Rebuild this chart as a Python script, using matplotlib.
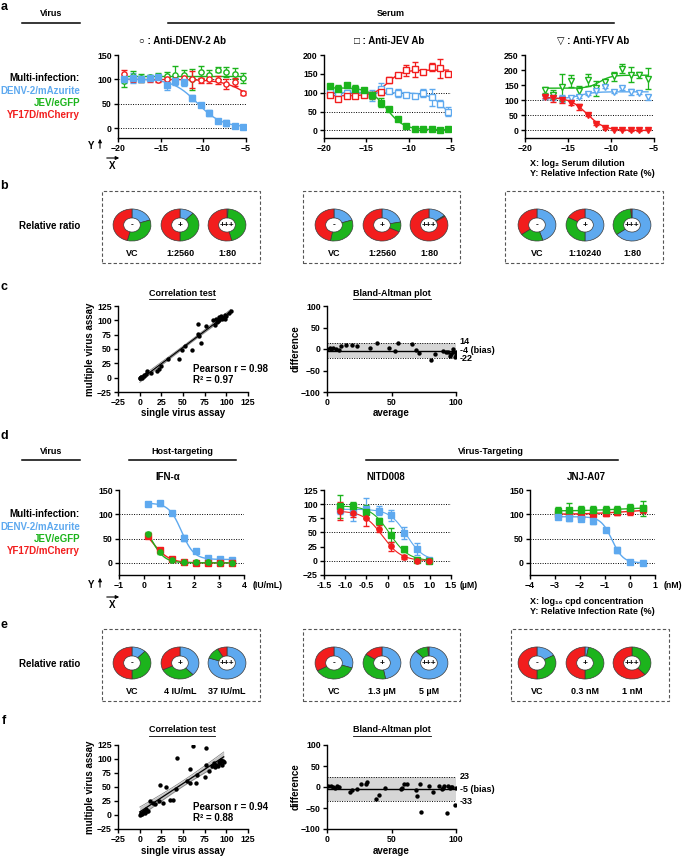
import numpy as np
import matplotlib
matplotlib.use('Agg')
import matplotlib.pyplot as plt
from matplotlib.lines import Line2D
from matplotlib.patches import Rectangle, FancyArrowPatch

plt.rcParams['font.family'] = ['Liberation Sans Narrow', 'Liberation Sans', 'DejaVu Sans']
plt.rcParams['font.weight'] = 'bold'
plt.rcParams['axes.linewidth'] = 1.0

BLUE = '#5ea9ef'
GREEN = '#1cb41c'
RED = '#f21d1d'

# ---------------- data ----------------
virus_names = ['DENV-2/mAzurite', 'JEV/eGFP', 'YF17D/mCherry']

# panel a : log2 serum dilution
a12_x = [-19.3, -18.3, -17.3, -16.3, -15.3, -14.3, -13.3, -12.3, -11.3, -10.3, -9.3, -8.3, -7.3, -6.3, -5.3]
a3_x = [-17.7, -16.7, -15.7, -14.7, -13.7, -12.7, -11.7, -10.7, -9.7, -8.7, -7.7, -6.7, -5.7]

a1_denv = [100, 103, 100, 103, 105, 89, 96, 95, 62, 48, 32, 15, 10, 5, 3]
a1_denv_sd = [8, 10, 6, 6, 5, 10, 8, 8, 6, 3, 6, 3, 6, 2, 2]
a1_jev = [96, 108, 103, 105, 108, 108, 110, 110, 100, 115, 110, 120, 115, 112, 103]
a1_jev_sd = [12, 10, 8, 5, 6, 8, 18, 10, 22, 12, 10, 5, 10, 12, 10]
a1_yfv = [112, 100, 100, 100, 98, 100, 98, 102, 100, 98, 100, 98, 90, 95, 73]
a1_yfv_sd = [8, 6, 5, 5, 3, 5, 5, 5, 18, 5, 8, 8, 10, 8, 4]

a2_denv = [102, 100, 100, 106, 100, 93, 111, 104, 100, 95, 91, 100, 88, 71, 50]
a2_denv_sd = [8, 10, 6, 6, 5, 15, 15, 6, 10, 5, 5, 10, 22, 10, 12]
a2_jev = [118, 110, 120, 110, 106, 93, 73, 56, 31, 12, 5, 4, 3, 1, 3]
a2_jev_sd = [5, 10, 6, 10, 5, 10, 12, 4, 4, 3, 2, 2, 2, 2, 2]
a2_yfv = [95, 84, 91, 91, 93, 95, 102, 135, 148, 159, 162, 156, 168, 165, 150]
a2_yfv_sd = [5, 6, 5, 5, 4, 5, 8, 8, 5, 15, 20, 5, 10, 25, 5]

a3_denv = [110, 108, 105, 107, 112, 120, 130, 145, 128, 140, 128, 125, 110]
a3_denv_sd = [5, 8, 12, 6, 5, 3, 4, 5, 5, 5, 10, 5, 8]
a3_jev = [135, 118, 143, 165, 132, 168, 140, 160, 180, 205, 185, 185, 172]
a3_jev_sd = [10, 15, 45, 20, 15, 20, 25, 10, 15, 15, 25, 10, 35]
a3_yfv = [112, 108, 102, 92, 78, 50, 22, 8, 3, 1, 0, 0, 2]
a3_yfv_sd = [5, 15, 10, 8, 10, 3, 3, 2, 2, 1, 1, 1, 2]

# fitted curves: bottom, top, x50, slope
a1_fits = [(2, 101, -10.7, 0.7), (107, 107, -12, 1.0), (0, 100, -3.5, 0.6)]
a2_fits = [(0, 100, -5.4, 1.0), (2, 113, -12.6, 1.0), (92, 160, -12.5, -1.2)]
a3_fits = [(105, 128, -13.6, -1.2), (140, 183, -11.3, -1.5), (0, 110, -12.8, 1.0)]

# panel d : log10 compound concentration
ifn_x = [0.15, 0.63, 1.1, 1.58, 2.06, 2.54, 3.02, 3.5]
nitd_x = [-1.12, -0.82, -0.51, -0.21, 0.09, 0.39, 0.69, 0.99]
jnj_x = [-2.9, -2.43, -1.95, -1.47, -0.96, -0.51, 0.0, 0.5]

ifn_denv = [121, 123, 102, 51, 24, 9, 8, 6]
ifn_denv_sd = [4, 5, 2, 6, 3, 2, 2, 2]
ifn_jev = [60, 22, 5, 2, 1, 1, 0, 0]
ifn_jev_sd = [3, 3, 2, 1, 1, 1, 1, 1]
ifn_yfv = [56, 27, 8, 2, 0, 0, 0, 0]
ifn_yfv_sd = [3, 3, 2, 1, 1, 1, 1, 1]

nitd_denv = [90, 86, 92, 88, 80, 49, 21, 1]
nitd_denv_sd = [8, 15, 18, 8, 10, 10, 10, 3]
nitd_jev = [96, 96, 87, 70, 46, 20, 2, 0]
nitd_jev_sd = [20, 8, 12, 6, 12, 4, 3, 1]
nitd_yfv = [88, 84, 76, 57, 26, 7, 0, 0]
nitd_yfv_sd = [16, 6, 15, 6, 8, 3, 2, 1]

jnj_denv = [95, 93, 91, 86, 68, 26, 1, 0]
jnj_denv_sd = [4, 6, 5, 6, 3, 6, 2, 1]
jnj_jev = [107, 108, 108, 108, 108, 109, 112, 112]
jnj_jev_sd = [8, 15, 10, 10, 10, 8, 10, 15]
jnj_yfv = [100, 102, 97, 100, 102, 104, 106, 110]
jnj_yfv_sd = [6, 8, 8, 6, 6, 6, 8, 8]

ifn_fits = [(7, 123, 1.5, 4.0), (0, 95, 0.3, 3.8), (0, 85, 0.33, 3.0)]
nitd_fits = [(0, 91, 0.45, 5.0), (0, 97, 0.05, 4.5), (0, 88, -0.12, 4.5)]
jnj_fits = [(0, 95, -0.72, 4.5), (107, 114, -0.5, -1.5), (100, 112, 0.0, -1.2)]

# donut fractions (DENV, JEV, YFV)
b_denv_ab = [[0.20, 0.34, 0.46], [0.12, 0.38, 0.50], [0.01, 0.45, 0.54]]
b_jev_ab = [[0.20, 0.33, 0.47], [0.22, 0.10, 0.68], [0.15, 0.01, 0.84]]
b_yfv_ab = [[0.45, 0.20, 0.35], [0.50, 0.33, 0.17], [0.65, 0.34, 0.01]]
b_labels = [['VC', '1:2560', '1:80'], ['VC', '1:2560', '1:80'], ['VC', '1:10240', '1:80']]
e_ifn = [[0.12, 0.38, 0.50], [0.38, 0.30, 0.32], [0.80, 0.12, 0.08]]
e_nitd = [[0.30, 0.37, 0.33], [0.47, 0.37, 0.16], [0.88, 0.11, 0.01]]
e_jnj = [[0.17, 0.33, 0.50], [0.03, 0.47, 0.50], [0.0, 0.38, 0.62]]
e_labels = [['VC', '4 IU/mL', '37 IU/mL'], ['VC', '1.3 µM', '5 µM'], ['VC', '0.3 nM', '1 nM']]
signs = ['-', '+', '+++']

# correlation / Bland-Altman
c_single = [0, 1, 3, 5, 7, 9, 13, 20, 22, 25, 33, 45, 49, 52, 60, 67, 67, 68, 71, 77,
            85, 87, 88, 89, 90, 92, 92, 94, 95, 96, 98, 98, 100, 103, 105, 0, 2, 5]
c_multi = [0, 1, 0, 3, 6, 11, 8, 11, 15, 20, 32, 33, 48, 55, 48, 94, 76, 72, 61, 90,
           100, 92, 103, 97, 99, 100, 105, 108, 103, 104, 110, 103, 107, 113, 116, -1, 2, 5]
c_avg = [0, 2, 3, 5, 7, 9, 11, 15, 19, 23, 33, 39, 48, 53, 55, 66, 69, 71, 81, 84,
         90, 92, 94, 95, 96, 98, 99, 100, 100, 98]
c_diff = [0, 2, 0, 2, 0, -2, 8, 10, 10, 6, 2, 14, 2, -4, 14, 12, -2, -10, -26, -12,
          -4, -6, -6, -16, -12, -6, -18, -8, -14, 0]
c_r, c_r2 = '0.98', '0.97'
c_bias, c_upper, c_lower = -4, 14, -22

f_single = [0, 1, 2, 3, 4, 5, 6, 7, 8, 10, 12, 15, 18, 22, 24, 27, 30, 35, 38, 42,
            43, 55, 58, 58, 62, 65, 66, 75, 76, 77, 80, 84, 86, 87, 88, 90, 92, 93, 94, 95, 96, 97]
f_multi = [0, 1, 3, 2, 6, 8, 4, 10, 7, 8, 25, 22, 20, 25, 53, 22, 50, 26, 26, 47,
           102, 60, 82, 58, 124, 58, 72, 68, 89, 120, 78, 88, 92, 85, 90, 88, 95, 92, 98, 90, 97, 95]
f_avg = [1, 3, 5, 6, 8, 9, 18, 19, 23, 26, 30, 31, 38, 40, 45, 57, 58, 60, 62, 69,
         70, 72, 73, 79, 82, 87, 89, 90, 91, 93, 94, 95, 96, 97, 99, 100]
f_diff = [2, 3, 1, -2, 2, -1, -12, -8, -4, 7, 8, 11, -28, -20, -3, -5, -2, 8, 8, -6,
          -22, 7, -60, 3, -13, 3, -5, -3, 2, -62, 2, -2, 0, -1, -44, -2]
f_r, f_r2 = '0.94', '0.88'
f_bias, f_upper, f_lower = -5, 23, -33

# ---------------- figure ----------------
W, H = 685, 857
fig = plt.figure(figsize=(W / 100, H / 100), dpi=100)


def rect(l, t, w, h):
    return [l / W, 1 - (t + h) / H, w / W, h / H]


def put(x, y, s, **kw):
    kw.setdefault('ha', 'center')
    kw.setdefault('va', 'center')
    kw.setdefault('fontsize', 6.5)
    return fig.text(x / W, 1 - y / H, s, **kw)


def hline(x0, x1, y, lw=1.1):
    fig.add_artist(Line2D([x0 / W, x1 / W], [1 - y / H, 1 - y / H],
                          transform=fig.transFigure, color='k', lw=lw))


def arrow(x0, y0, x1, y1):
    fig.add_artist(FancyArrowPatch((x0 / W, 1 - y0 / H), (x1 / W, 1 - y1 / H),
                                   transform=fig.transFigure, arrowstyle='-|>',
                                   mutation_scale=5, lw=0.8, color='k'))


def style(ax, xlim, ylim, xticks, yticks, xlabels=None):
    ax.spines['top'].set_visible(False)
    ax.spines['right'].set_visible(False)
    ax.set_xlim(xlim)
    ax.set_ylim(ylim)
    ax.set_xticks(xticks)
    ax.set_yticks(yticks)
    if xlabels is not None:
        ax.set_xticklabels(xlabels)
    ax.tick_params(direction='out', length=3, width=1, labelsize=6.3, pad=1.5)
    ax.patch.set_alpha(0)


def sigmoid(xs, p):
    bottom, top, x50, slope = p
    return bottom + (top - bottom) / (1 + np.exp(slope * (xs - x50)))


def dose(ax, x, y, sd, fit, color, marker, filled, lw=1.0):
    x = np.asarray(x)
    xs = np.linspace(x.min(), x.max(), 200)
    ax.plot(xs, sigmoid(xs, fit), color=color, lw=lw, zorder=2)
    ax.errorbar(x, y, yerr=sd, fmt=marker, ms=3.8, color=color,
                mfc=color if filled else 'white', mec=color, mew=1.0,
                ecolor=color, elinewidth=0.9, capsize=2, capthick=0.9, zorder=3)


def refs(ax, levels=(0, 50, 100)):
    for v in levels:
        ax.axhline(v, color='k', ls=(0, (1, 1.5)), lw=0.7, zorder=1)


def legend_block(y0):
    put(80, y0, 'Multi-infection:', ha='right', fontsize=7)
    for i, (name, c) in enumerate(zip(virus_names, [BLUE, GREEN, RED])):
        put(80, y0 + 12.5 * (i + 1), name, ha='right', fontsize=7, color=c)


def xy_mark(yy):
    put(91, yy, 'Y', fontsize=7)
    arrow(100, yy + 5, 100, yy - 10)
    arrow(104, yy + 12, 122, yy + 12)
    put(112, yy + 20, 'X', fontsize=7)


def donut(cx, cy, fracs, sign, label):
    ax = fig.add_axes(rect(cx - 19.5, cy - 16.5, 39, 33))
    ax.pie(fracs, colors=[BLUE, GREEN, RED], startangle=90, counterclock=False,
           wedgeprops=dict(width=0.56, edgecolor='#3a3a3a', linewidth=0.5))
    ax.set_aspect('auto')
    ax.set_xlim(-1.03, 1.03)
    ax.set_ylim(-1.03, 1.03)
    ax.text(0, 0, sign, ha='center', va='center', fontsize=6)
    put(cx, cy + 28, label, fontsize=6.5)


def dashed_box(l, t, r, b):
    fig.add_artist(Rectangle((l / W, 1 - b / H), (r - l) / W, (b - t) / H,
                             transform=fig.transFigure, fill=False,
                             ls=(0, (3, 2)), lw=0.8, ec='#555555'))


def donut_row(cy, groups, labels, boxes):
    put(50, cy + 1, 'Relative ratio', fontsize=7)
    centers = [[132, 180, 227], [334, 382, 429], [537, 585, 632]]
    for g, labs, (l, r), cxs in zip(groups, labels, boxes, centers):
        dashed_box(l, cy - 34, r, cy + 38)
        for fr, sg, lb, cx in zip(g, signs, labs, cxs):
            donut(cx, cy, fr, sg, lb)


def corr(ax, sx, my, r_txt, r2_txt, ytxt):
    sx, my = np.asarray(sx, float), np.asarray(my, float)
    k, b = np.polyfit(sx, my, 1)
    xs = np.linspace(sx.min(), sx.max(), 100)
    n = len(sx)
    s = np.sqrt(((my - (k * sx + b)) ** 2).sum() / (n - 2))
    se = s * np.sqrt(1 / n + (xs - sx.mean()) ** 2 / ((sx - sx.mean()) ** 2).sum())
    fit = k * xs + b
    ax.fill_between(xs, fit - 2.02 * se, fit + 2.02 * se, color='#c4c4c4', lw=0, zorder=1)
    ax.plot(xs, fit - 2.02 * se, color='#7a7a7a', lw=0.5, zorder=1)
    ax.plot(xs, fit + 2.02 * se, color='#7a7a7a', lw=0.5, zorder=1)
    ax.plot(xs, fit, color='k', lw=0.9, zorder=2)
    ax.scatter(sx, my, s=10, color='k', lw=0, zorder=3)
    style(ax, (-25, 125), (-25, 125), range(-25, 126, 25), range(-25, 126, 25))
    put(193, ytxt, 'Pearson r = ' + r_txt, ha='left', fontsize=7)
    put(193, ytxt + 11, 'R² = ' + r2_txt, ha='left', fontsize=7)


def bland(ax, avg, diff, bias, upper, lower):
    ax.axhspan(lower, upper, color='#d6d6d6', lw=0, zorder=0)
    ax.axhline(upper, color='k', ls=(0, (1, 1.5)), lw=0.7, zorder=1)
    ax.axhline(lower, color='k', ls=(0, (1, 1.5)), lw=0.7, zorder=1)
    ax.axhline(bias, color='k', lw=1.0, zorder=2)
    ax.scatter(avg, diff, s=10, color='k', lw=0, zorder=3)
    style(ax, (0, 100), (-100, 100), [0, 50, 100], range(-100, 101, 50))
    tr = ax.get_yaxis_transform()
    ax.text(1.03, upper + 3, str(upper), transform=tr, fontsize=6.5, va='center')
    ax.text(1.03, bias, '%d (bias)' % bias, transform=tr, fontsize=6.5, va='center')
    ax.text(1.03, lower - 1, str(lower), transform=tr, fontsize=6.5, va='center')


titles_ul = []

# ---- panel a ----
put(4, 7, 'a', fontsize=9)
put(51, 14, 'Virus')
hline(22, 80, 23)
put(391, 14, 'Serum')
hline(168, 614, 23)
put(183, 41, '○ : Anti-DENV-2 Ab', fontsize=7)
put(389, 41, '□ : Anti-JEV Ab', fontsize=7)
put(593, 41, '▽ : Anti-YFV Ab', fontsize=7)

ax = fig.add_axes(rect(118, 55, 128, 83))
refs(ax)
dose(ax, a12_x, a1_jev, a1_jev_sd, a1_fits[1], GREEN, 'o', False)
dose(ax, a12_x, a1_yfv, a1_yfv_sd, a1_fits[2], RED, 'o', False)
dose(ax, a12_x, a1_denv, a1_denv_sd, a1_fits[0], BLUE, 's', True)
style(ax, (-20, -5), (-20, 150), [-20, -15, -10, -5], [0, 50, 100, 150])

ax = fig.add_axes(rect(324, 55, 127, 83))
refs(ax)
dose(ax, a12_x, a2_denv, a2_denv_sd, a2_fits[0], BLUE, 's', False)
dose(ax, a12_x, a2_yfv, a2_yfv_sd, a2_fits[2], RED, 's', False)
dose(ax, a12_x, a2_jev, a2_jev_sd, a2_fits[1], GREEN, 's', True)
style(ax, (-20, -5), (-20, 200), [-20, -15, -10, -5], range(0, 201, 50))

ax = fig.add_axes(rect(525, 55, 129, 83))
refs(ax)
dose(ax, a3_x, a3_jev, a3_jev_sd, a3_fits[1], GREEN, 'v', False)
dose(ax, a3_x, a3_denv, a3_denv_sd, a3_fits[0], BLUE, 'v', False)
dose(ax, a3_x, a3_yfv, a3_yfv_sd, a3_fits[2], RED, 'v', True)
style(ax, (-20, -5), (-25, 250), [-20, -15, -10, -5], range(0, 251, 50))

legend_block(78)
xy_mark(146)
put(530, 163, 'X: log₂ Serum dilution', ha='left')
put(530, 174, 'Y: Relative Infection Rate (%)', ha='left')

# ---- panel b ----
put(4, 186, 'b', fontsize=9)
donut_row(225, [b_denv_ab, b_jev_ab, b_yfv_ab], b_labels, [(102, 260), (303, 460), (505, 663)])

# ---- panel c ----
put(4, 287, 'c', fontsize=9)
titles_ul.append(put(182, 293, 'Correlation test'))
titles_ul.append(put(392, 293, 'Bland-Altman plot'))
ax = fig.add_axes(rect(118, 306, 130, 86))
corr(ax, c_single, c_multi, c_r, c_r2, 369)
put(90, 349, 'multiple virus assay', rotation=90, fontsize=7)
put(183, 413, 'single virus assay', fontsize=7)
ax = fig.add_axes(rect(327, 306, 129, 86))
bland(ax, c_avg, c_diff, c_bias, c_upper, c_lower)
put(296, 349, 'difference', rotation=90, fontsize=7)
put(391, 413, 'average', fontsize=7)

# ---- panel d ----
put(4, 436, 'd', fontsize=9)
put(51, 451, 'Virus')
hline(22, 80, 460)
put(182, 451, 'Host-targeting')
hline(129, 236, 460)
put(491, 451, 'Virus-Targeting')
hline(366, 618, 460)
put(168, 477, 'IFN-α', fontsize=7)
put(386, 477, 'NITD008', fontsize=7)
put(586, 477, 'JNJ-A07', fontsize=7)

ax = fig.add_axes(rect(119, 490, 125, 85))
refs(ax)
dose(ax, ifn_x, ifn_denv, ifn_denv_sd, ifn_fits[0], BLUE, 's', True)
dose(ax, ifn_x, ifn_yfv, ifn_yfv_sd, ifn_fits[2], RED, 's', True)
dose(ax, ifn_x, ifn_jev, ifn_jev_sd, ifn_fits[1], GREEN, 'o', True)
style(ax, (-1, 4), (-25, 150), range(-1, 5), [0, 50, 100, 150])

ax = fig.add_axes(rect(324, 490, 127, 85))
refs(ax)
dose(ax, nitd_x, nitd_denv, nitd_denv_sd, nitd_fits[0], BLUE, 's', True, lw=0.8)
dose(ax, nitd_x, nitd_jev, nitd_jev_sd, nitd_fits[1], GREEN, 's', True, lw=0.8)
dose(ax, nitd_x, nitd_yfv, nitd_yfv_sd, nitd_fits[2], RED, 'o', True, lw=0.8)
style(ax, (-1.5, 1.5), (-25, 125), [-1.5, -1.0, -0.5, 0, 0.5, 1.0, 1.5], range(-25, 126, 25),
      ['-1.5', '-1.0', '-0.5', '0', '0.5', '1.0', '1.5'])

ax = fig.add_axes(rect(530, 490, 125, 85))
refs(ax)
dose(ax, jnj_x, jnj_yfv, jnj_yfv_sd, jnj_fits[2], RED, 's', True)
dose(ax, jnj_x, jnj_jev, jnj_jev_sd, jnj_fits[1], GREEN, 's', True)
dose(ax, jnj_x, jnj_denv, jnj_denv_sd, jnj_fits[0], BLUE, 's', True)
style(ax, (-4, 1), (-25, 150), range(-4, 2), [0, 50, 100, 150])

put(268, 585, '(IU/mL)', fontsize=6.3)
put(469, 585, '(µM)', fontsize=6.3)
put(673, 585, '(nM)', fontsize=6.3)
legend_block(514)
xy_mark(585)
put(530, 602, 'X: log₁₀ cpd concentration', ha='left')
put(530, 612, 'Y: Relative Infection Rate (%)', ha='left')

# ---- panel e ----
put(4, 625, 'e', fontsize=9)
donut_row(663, [e_ifn, e_nitd, e_jnj], e_labels, [(102, 260), (303, 460), (511, 669)])

# ---- panel f ----
put(4, 721, 'f', fontsize=9)
titles_ul.append(put(182, 730, 'Correlation test'))
titles_ul.append(put(392, 730, 'Bland-Altman plot'))
ax = fig.add_axes(rect(118, 745, 130, 84))
corr(ax, f_single, f_multi, f_r, f_r2, 807)
put(90, 787, 'multiple virus assay', rotation=90, fontsize=7)
put(183, 851, 'single virus assay', fontsize=7)
ax = fig.add_axes(rect(327, 745, 129, 84))
bland(ax, f_avg, f_diff, f_bias, f_upper, f_lower)
put(296, 787, 'difference', rotation=90, fontsize=7)
put(391, 851, 'average', fontsize=7)

# underline the small titles
rend = fig.canvas.get_renderer()
for t in titles_ul:
    bb = t.get_window_extent(rend)
    fig.add_artist(Line2D([bb.x0 / W, bb.x1 / W], [(bb.y0 - 1) / H] * 2,
                          transform=fig.transFigure, color='k', lw=0.6))

fig.savefig('out.png', dpi=100)
